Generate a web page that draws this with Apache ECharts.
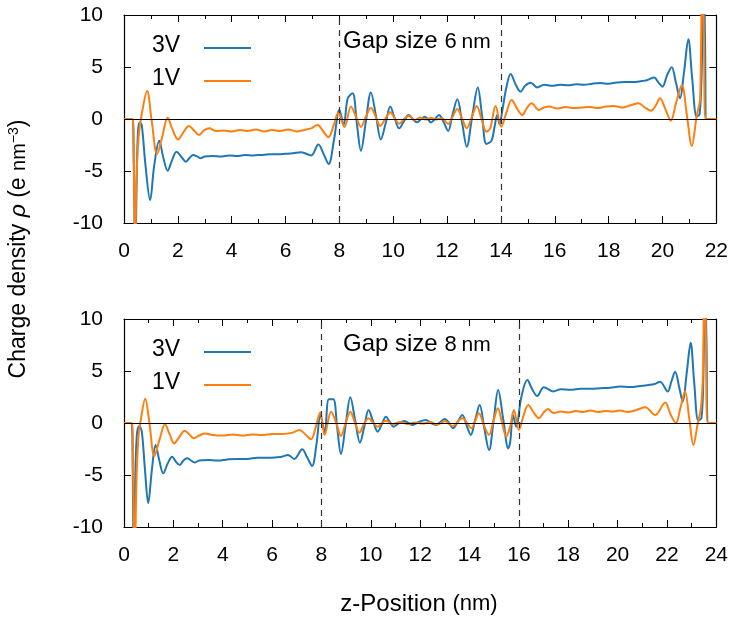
<!DOCTYPE html>
<html>
<head>
<meta charset="utf-8">
<script src="https://cdn.jsdelivr.net/npm/echarts@6/dist/echarts.min.js"></script>
<style>html,body{margin:0;padding:0;background:#fff;}#c{width:731px;height:624px;}</style>
</head>
<body>
<div id="c"></div>
<script>
// ---- data ----
var seriesNames = ['3V', '1V'];
var topXMax = 22, botXMax = 24;
var gapTop = [8, 14], gapBot = [8, 16];
var gapLabels = ['6', '8'];
var yTicks = [-10, -5, 0, 5, 10];

var top3V = [[0,0],[0.3,0],[0.36,-4],[0.42,-14],[0.47,-6],[0.52,-1.2],[0.59,-0.32],[0.66,-0.6],[0.8,-4.5],[0.97,-7.8],[1.12,-4.5],[1.31,-2.1],[1.45,-3.6],[1.62,-4.97],[1.78,-4.0],[1.95,-3.14],[2.12,-3.6],[2.30,-4.1],[2.45,-3.7],[2.57,-3.46],[2.72,-3.6],[2.84,-3.78],[3.0,-3.6],[3.3,-3.55],[3.6,-3.6],[3.9,-3.5],[4.2,-3.55],[4.5,-3.45],[4.8,-3.5],[5.1,-3.45],[5.4,-3.4],[5.7,-3.4],[6.0,-3.35],[6.27,-3.3],[6.58,-3.2],[6.95,-3.5],[7.22,-2.44],[7.42,-3.4],[7.6,-4.33],[7.8,-2.0],[8.0,0.87],[8.16,-0.55],[8.31,1.99],[8.49,2.47],[8.65,-0.5],[8.8,-3.05],[8.98,-0.3],[9.17,2.56],[9.36,0.3],[9.54,-1.96],[9.72,-0.4],[9.89,1.19],[10.05,0.1],[10.22,-0.9],[10.4,-0.2],[10.57,0.38],[10.72,0.0],[10.88,-0.32],[11.02,-0.05],[11.17,0.22],[11.28,0.0],[11.4,-0.34],[11.55,0.0],[11.7,0.38],[11.87,-0.3],[12.04,-1.15],[12.2,0.4],[12.38,1.89],[12.56,-0.4],[12.73,-2.66],[12.93,0.2],[13.14,3.04],[13.3,0.3],[13.46,-2.4],[13.65,-2.08],[13.76,-0.8],[13.86,0.38],[13.95,-0.5],[14.05,0.8],[14.2,3.0],[14.36,4.33],[14.55,3.3],[14.73,2.63],[14.9,3.2],[15.1,3.49],[15.35,3.04],[15.6,3.3],[15.9,3.2],[16.2,3.3],[16.5,3.25],[16.8,3.35],[17.1,3.3],[17.4,3.4],[17.7,3.45],[18.0,3.4],[18.3,3.5],[18.6,3.55],[18.9,3.55],[19.23,3.65],[19.45,3.75],[19.69,4.0],[19.85,3.5],[20.0,3.11],[20.17,4.2],[20.34,4.97],[20.5,3.5],[20.65,1.99],[20.8,4.5],[20.96,7.66],[21.1,4.0],[21.27,0.22],[21.38,0.5],[21.46,5],[21.52,16],[21.58,8],[21.64,0],[22,0]];

var top1V = [[0,0],[0.32,0],[0.37,-5],[0.41,-14],[0.46,-6],[0.55,-1.5],[0.66,0.5],[0.86,2.7],[1.02,0.0],[1.23,-3.37],[1.42,-1.7],[1.62,0.13],[1.8,-1.0],[2.01,-1.96],[2.2,-1.3],[2.41,-0.67],[2.6,-1.1],[2.78,-1.54],[2.97,-1.1],[3.17,-0.9],[3.4,-1.15],[3.7,-1.1],[4.0,-1.2],[4.3,-1.05],[4.6,-1.15],[4.9,-1.0],[5.2,-1.2],[5.5,-1.05],[5.8,-1.15],[6.1,-1.0],[6.4,-1.2],[6.7,-1.05],[6.95,-0.9],[7.19,-0.58],[7.4,-1.2],[7.59,-1.76],[7.8,-0.5],[7.96,0.6],[8.19,-0.77],[8.43,1.19],[8.62,0.2],[8.8,-0.77],[8.98,0.2],[9.17,1.09],[9.35,0.2],[9.52,-0.67],[9.7,0.0],[9.89,0.64],[10.05,0.1],[10.22,-0.45],[10.4,0.0],[10.59,0.32],[10.8,-0.1],[11.0,0.15],[11.2,-0.05],[11.4,0.1],[11.6,-0.05],[11.8,0.1],[12.04,-0.48],[12.2,0.2],[12.38,0.96],[12.56,0.0],[12.73,-0.9],[12.92,0.2],[13.1,1.25],[13.28,0.0],[13.46,-1.22],[13.6,-0.9],[13.8,1.25],[14.01,-0.74],[14.2,0.6],[14.4,1.83],[14.6,1.0],[14.79,0.38],[14.95,1.0],[15.14,1.51],[15.41,0.87],[15.6,1.1],[15.8,1.2],[16.1,1.0],[16.4,1.15],[16.7,1.05],[17.0,1.1],[17.3,1.15],[17.6,1.05],[17.9,1.2],[18.2,1.25],[18.5,1.1],[18.8,1.3],[19.11,1.51],[19.35,1.1],[19.58,0.79],[19.75,1.3],[19.91,1.99],[20.1,1.0],[20.31,-0.16],[20.5,1.5],[20.72,3.27],[20.9,0.5],[21.09,-2.6],[21.27,0.3],[21.4,2],[21.47,16],[21.54,8],[21.6,0],[22,0]];

var bot3V = [[0,0],[0.3,0],[0.35,-4],[0.4,-14],[0.45,-6],[0.52,-1.2],[0.62,-0.29],[0.72,-0.8],[0.85,-4.5],[0.98,-7.7],[1.13,-4.5],[1.28,-2.12],[1.43,-3.6],[1.59,-4.84],[1.77,-3.9],[1.95,-3.24],[2.1,-3.7],[2.26,-4.04],[2.41,-3.6],[2.56,-3.4],[2.71,-3.6],[2.86,-3.8],[3.05,-3.6],[3.4,-3.55],[3.8,-3.6],[4.2,-3.5],[4.6,-3.45],[5.0,-3.45],[5.4,-3.35],[5.8,-3.35],[6.2,-3.3],[6.4,-3.25],[6.64,-3.08],[6.9,-3.45],[7.22,-2.53],[7.42,-3.3],[7.62,-4.13],[7.8,-2.0],[7.96,0.77],[8.13,-0.9],[8.3,2.28],[8.48,2.28],[8.64,-0.5],[8.79,-2.98],[8.98,-0.2],[9.17,2.47],[9.37,0.2],[9.56,-1.89],[9.74,-0.3],[9.91,1.25],[10.1,0.1],[10.28,-0.83],[10.45,-0.1],[10.61,0.61],[10.77,0.1],[10.92,-0.35],[11.15,0.0],[11.35,0.19],[11.52,0.0],[11.69,-0.19],[11.95,0.1],[12.23,0.29],[12.44,0.0],[12.64,-0.19],[12.82,0.1],[13.0,0.38],[13.17,0.0],[13.33,-0.51],[13.52,0.1],[13.71,0.77],[13.88,-0.2],[14.05,-1.15],[14.23,0.3],[14.41,1.73],[14.6,-0.5],[14.79,-2.6],[14.98,0.3],[15.16,3.17],[15.37,0.3],[15.57,-2.44],[15.65,-1.8],[15.76,0.77],[15.89,-0.35],[16.1,2.5],[16.34,4.13],[16.55,3.2],[16.74,2.6],[17.01,3.43],[17.39,3.04],[17.7,3.25],[18.1,3.2],[18.5,3.3],[18.9,3.3],[19.3,3.35],[19.7,3.4],[20.1,3.5],[20.5,3.45],[20.9,3.55],[21.25,3.65],[21.5,3.75],[21.72,3.97],[22.03,3.04],[22.18,4.0],[22.33,4.93],[22.5,3.4],[22.64,2.05],[22.8,4.8],[22.96,7.72],[23.1,4.0],[23.27,0.22],[23.4,0.5],[23.48,5],[23.54,16],[23.6,8],[23.68,0],[24,0]];

var bot1V = [[0,0],[0.32,0],[0.37,-5],[0.44,-14],[0.5,-6],[0.58,-1.5],[0.68,0.3],[0.86,2.34],[1.03,0.0],[1.23,-3.17],[1.44,-1.6],[1.66,-0.13],[1.85,-1.1],[2.03,-1.96],[2.25,-1.3],[2.46,-0.74],[2.65,-1.1],[2.83,-1.47],[3.05,-1.2],[3.28,-1.0],[3.6,-1.15],[4.0,-1.2],[4.4,-1.1],[4.8,-1.2],[5.2,-1.1],[5.6,-1.15],[6.0,-1.05],[6.4,-1.05],[6.8,-0.95],[7.11,-0.67],[7.35,-1.1],[7.58,-1.57],[7.78,-0.3],[7.95,1.0],[8.13,-1.15],[8.39,1.09],[8.6,0.0],[8.79,-1.25],[8.98,0.0],[9.17,1.09],[9.36,0.0],[9.54,-0.93],[9.72,-0.1],[9.91,0.45],[10.1,0.0],[10.28,-0.35],[10.45,0.0],[10.61,0.22],[10.9,-0.1],[11.2,0.1],[11.5,-0.1],[11.8,0.05],[12.1,-0.05],[12.4,0.1],[12.7,-0.15],[13.0,0.2],[13.3,-0.3],[13.71,0.45],[13.9,0.0],[14.08,-0.51],[14.23,0.2],[14.38,0.93],[14.58,-0.2],[14.79,-1.15],[14.97,0.2],[15.15,1.41],[15.32,0.0],[15.49,-1.31],[15.65,-0.3],[15.8,1.25],[16.0,-0.67],[16.2,0.8],[16.38,1.73],[16.6,1.0],[16.81,0.45],[17.0,1.0],[17.18,1.35],[17.4,0.95],[17.7,1.1],[18.0,1.0],[18.3,1.15],[18.6,1.05],[18.9,1.2],[19.2,1.05],[19.5,1.15],[19.8,1.1],[20.1,1.2],[20.4,1.05],[20.7,1.2],[21.12,1.51],[21.52,0.77],[21.93,1.96],[22.15,0.8],[22.36,0.0],[22.55,1.5],[22.73,3.04],[22.9,0.5],[23.07,-2.12],[23.25,0.0],[23.38,1.5],[23.46,5],[23.52,16],[23.58,8],[23.65,0],[24,0]];

// ---- styling ----
var FONT = 'Liberation Sans';
var BLUE = '#1f77b4', ORANGE = '#ff7f0e';
var chart = echarts.init(document.getElementById('c'), null, {renderer: 'canvas'});

function xAxisDef(grid, max, pos, showLabel) {
  return {
    type: 'value', gridIndex: grid, min: 0, max: max, interval: 2, position: pos,
    axisLine: {show: true, onZero: false, lineStyle: {color: '#000', width: 1.2}},
    axisTick: {show: true, inside: true, length: 7, lineStyle: {color: '#000', width: 1}},
    minorTick: {show: true, splitNumber: 2, length: 4, lineStyle: {color: '#000', width: 1}},
    splitLine: {show: false}, minorSplitLine: {show: false},
    axisLabel: {show: showLabel, margin: 18, fontFamily: FONT, fontSize: 21, color: '#000'}
  };
}
function yAxisDef(grid, pos, showLabel) {
  return {
    type: 'value', gridIndex: grid, min: yTicks[0], max: yTicks[yTicks.length - 1], interval: 5, position: pos,
    axisLine: {show: true, onZero: false, lineStyle: {color: '#000', width: 1.2}},
    axisTick: {show: true, inside: true, length: 7, lineStyle: {color: '#000', width: 1}},
    splitLine: {show: false},
    axisLabel: {show: showLabel, margin: 21, fontFamily: FONT, fontSize: 21, color: '#000'}
  };
}
function refLines(gaps) {
  return {
    silent: true, symbol: 'none', animation: false, label: {show: false},
    data: [
      {yAxis: 0, lineStyle: {type: 'solid', color: '#000', width: 1.2}},
      {xAxis: gaps[0], lineStyle: {type: [6, 5], color: '#333', width: 1.2}},
      {xAxis: gaps[1], lineStyle: {type: [6, 5], color: '#333', width: 1.2}}
    ]
  };
}
function lineSeries(name, data, xi, yi, color, ml) {
  var s = {
    name: name, type: 'line', data: data, xAxisIndex: xi, yAxisIndex: yi,
    showSymbol: false, smooth: 0.35, clip: true, animation: false,
    lineStyle: {color: color, width: 2}, itemStyle: {color: color}
  };
  if (ml) s.markLine = ml;
  return s;
}
function legendGraphics(y1, y2) {
  var items = [];
  [[seriesNames[0], y1, BLUE], [seriesNames[1], y2, ORANGE]].forEach(function (d) {
    items.push({type: 'text', x: 152, y: d[1],
      style: {text: d[0], font: '23px "' + FONT + '"', fill: '#000', textAlign: 'left', textVerticalAlign: 'middle'}});
    items.push({type: 'line', shape: {x1: 204, y1: d[1] + 2, x2: 251, y2: d[1] + 2},
      style: {stroke: d[2], lineWidth: 2}});
  });
  return items;
}
function gapGraphic(label, y) {
  return {type: 'text', x: 343, y: y,
    style: {text: '{a|Gap size }{b|' + label + '}{c|nm}', textAlign: 'left', textVerticalAlign: 'middle',
      rich: {a: {fontFamily: FONT, fontSize: 24, fill: '#000', verticalAlign: 'bottom'},
             b: {fontFamily: FONT, fontSize: 22, fill: '#000', verticalAlign: 'bottom'},
             c: {fontFamily: FONT, fontSize: 21, fill: '#000', verticalAlign: 'bottom', padding: [0, 0, 0, 5]}}}};
}

var option = {
  backgroundColor: '#fff',
  animation: false,
  grid: [
    {left: 124, top: 15, width: 594, height: 208},
    {left: 124, top: 319, width: 594, height: 208}
  ],
  xAxis: [xAxisDef(0, topXMax, 'bottom', true), xAxisDef(0, topXMax, 'top', false),
          xAxisDef(1, botXMax, 'bottom', true), xAxisDef(1, botXMax, 'top', false)],
  yAxis: [yAxisDef(0, 'left', true), yAxisDef(0, 'right', false),
          yAxisDef(1, 'left', true), yAxisDef(1, 'right', false)],
  series: [
    lineSeries(seriesNames[0], top3V, 0, 0, BLUE, refLines(gapTop)),
    lineSeries(seriesNames[1], top1V, 0, 0, ORANGE),
    lineSeries(seriesNames[0], bot3V, 2, 2, BLUE, refLines(gapBot)),
    lineSeries(seriesNames[1], bot1V, 2, 2, ORANGE)
  ],
  graphic: [].concat(
    legendGraphics(46, 79),
    legendGraphics(350, 383),
    [gapGraphic(gapLabels[0], 41), gapGraphic(gapLabels[1], 344),
     {type: 'text', x: 19, y: 249, rotation: Math.PI / 2,
      style: {text: '{a|Charge density }{i|ρ}{a| (e }{n|nm}{s|−3}{a|)}', textAlign: 'center', textVerticalAlign: 'middle',
        rich: {a: {fontFamily: FONT, fontSize: 23, fill: '#000'},
               i: {fontFamily: FONT, fontSize: 23, fontStyle: 'italic', fill: '#000'},
               n: {fontFamily: FONT, fontSize: 20, fill: '#000'},
               s: {fontFamily: FONT, fontSize: 14, fill: '#000', verticalAlign: 'top'}}}},
     {type: 'text', x: 419, y: 604,
      style: {text: '{a|z-Position }{n|(nm)}', textAlign: 'center', textVerticalAlign: 'middle',
        rich: {a: {fontFamily: FONT, fontSize: 24, fill: '#000'},
               n: {fontFamily: FONT, fontSize: 22, fill: '#000'}}}}]
  )
};
chart.setOption(option);
</script>
</body>
</html>
